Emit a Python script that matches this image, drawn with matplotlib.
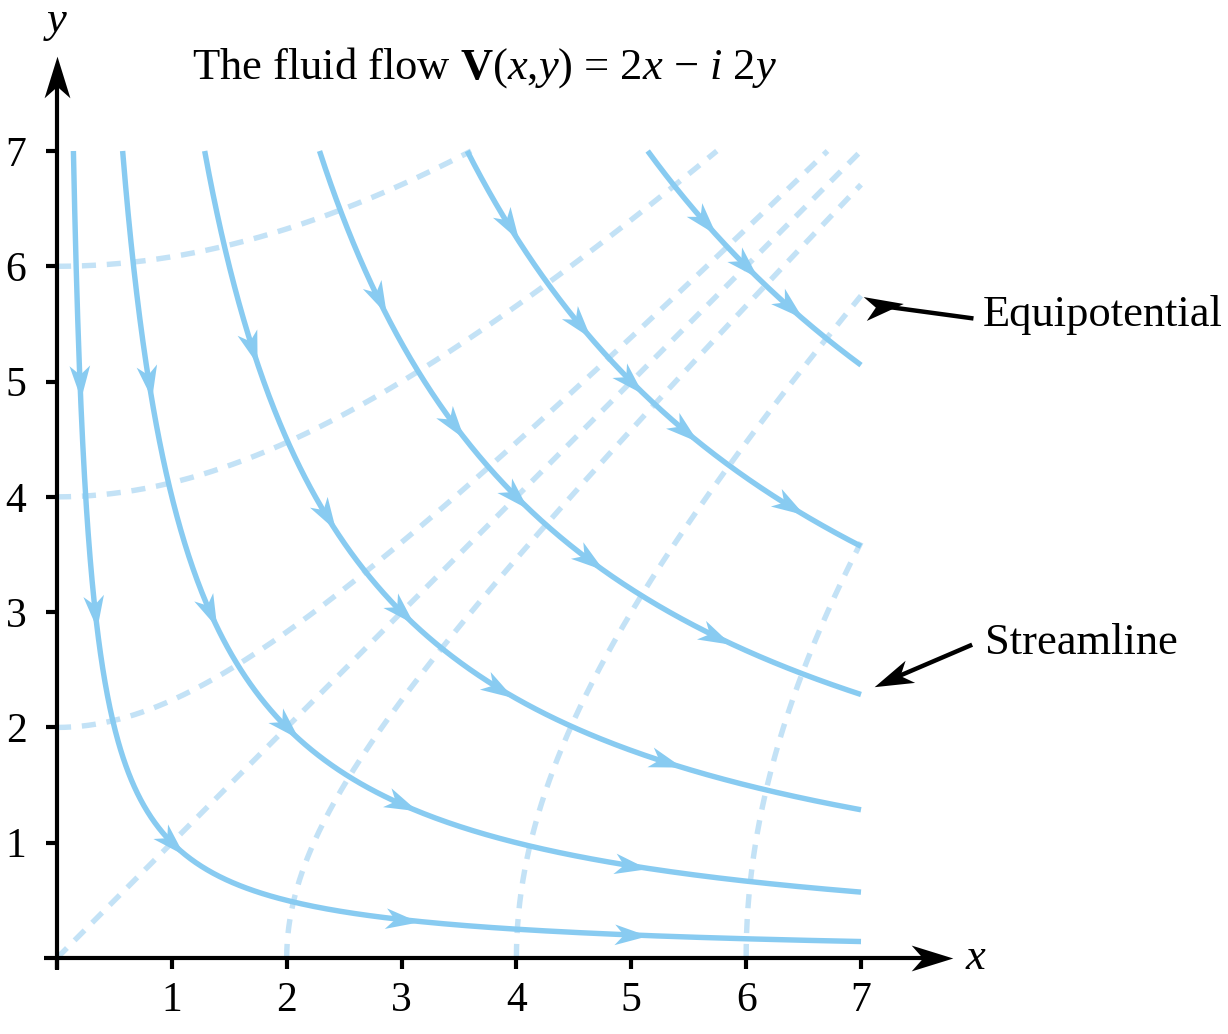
import numpy as np
import matplotlib
matplotlib.use("Agg")
import matplotlib.pyplot as plt
from matplotlib.markers import MarkerStyle
from matplotlib.path import Path
from matplotlib.transforms import Affine2D

plt.rcParams['font.family'] = ['Liberation Serif', 'DejaVu Serif']
plt.rcParams['mathtext.fontset'] = 'custom'
plt.rcParams['mathtext.rm'] = 'Liberation Serif'
plt.rcParams['mathtext.it'] = 'Liberation Serif:italic'
plt.rcParams['mathtext.bf'] = 'Liberation Serif:bold'

# ---- data ----
stream_consts = [1, 4, 9, 16, 25, 36]          # xy = c
stream_arrow_x = [
    [0.2, 0.333, 1.0, 3.0, 5.0],
    [0.8, 1.333, 2.0, 3.0, 5.0],
    [1.7, 2.35, 3.0, 3.85, 5.3],
    [2.8, 3.46, 4.0, 4.64, 5.74],
    [3.94, 4.55, 5.0, 5.47, 6.38],
    [5.64, 6.0, 6.38],
]
equip_consts = [-36, -16, -4, 0, 4, 16, 36]    # x^2 - y^2 = c
tick_vals = [1, 2, 3, 4, 5, 6, 7]
title = r"The fluid flow $\mathbf{V}(x{,}y)$ = 2$x$ $-$ $i$ 2$y$"

STREAM = '#88cbf1'
EQUIP = '#c3e2f6'

fig = plt.figure(figsize=(12.28, 10.34), dpi=100)
ax = fig.add_axes([57/1228, (1034-958)/1034, 804/1228, 807/1034])
ax.set_xlim(0, 7)
ax.set_ylim(0, 7)
for s in ax.spines.values():
    s.set_visible(False)

# stealth arrow marker
verts = [(1, 0), (-1, 0.62), (-0.45, 0), (-1, -0.62), (1, 0)]
codes = [Path.MOVETO, Path.LINETO, Path.LINETO, Path.LINETO, Path.CLOSEPOLY]
stealth = Path(verts, codes)


def head(x, y, dx, dy, size, color, z=5):
    p0 = ax.transData.transform((x, y))
    p1 = ax.transData.transform((x + dx, y + dy))
    ang = np.degrees(np.arctan2(p1[1] - p0[1], p1[0] - p0[0]))
    m = MarkerStyle(stealth, transform=Affine2D().rotate_deg(ang))
    ax.plot([x], [y], marker=m, markersize=size, color=color,
            markeredgewidth=0, linestyle='none', clip_on=False, zorder=z)


# equipotentials
for c in equip_consts:
    if c < 0:
        xs = np.linspace(0, min(7, np.sqrt(49 + c)), 300)
        ys = np.sqrt(xs**2 - c)
    else:
        ys = np.linspace(0, min(7, np.sqrt(49 - c)), 300)
        xs = np.sqrt(ys**2 + c)
    ax.plot(xs, ys, color=EQUIP, lw=3.9, dashes=(2.6, 2.0), solid_capstyle='butt',
            dash_capstyle='butt', clip_on=False, zorder=2)

# streamlines
for c, axs in zip(stream_consts, stream_arrow_x):
    xs = np.geomspace(c / 7, 7, 400)
    ax.plot(xs, c / xs, color=STREAM, lw=3.9, clip_on=False, zorder=3,
            solid_capstyle='butt')
    for xa in axs:
        ya = c / xa
        # velocity (2x, -2y)
        head(xa, ya, 2 * xa * 0.01, -2 * ya * 0.01, 24, STREAM)

# axes lines with arrows
ax.plot([-0.11, 7.6], [0, 0], color='k', lw=3, clip_on=False, zorder=6,
        solid_capstyle='butt')
ax.plot([0, 0], [-0.1, 7.6], color='k', lw=3, clip_on=False, zorder=6,
        solid_capstyle='butt')
head(7.78 - 0.16, 0, 1, 0, 30, 'k', 7)
head(0, 7.8 - 0.16, 0, 1, 30, 'k', 7)

ax.set_xticks([0] + tick_vals)
ax.set_xticklabels([''] + [str(v) for v in tick_vals])
ax.set_yticks(tick_vals)
ax.set_yticklabels([str(v) for v in tick_vals])
ax.tick_params(axis='x', direction='out', length=8, width=3, pad=9,
               labelsize=30, color='k')
ax.tick_params(axis='y', direction='out', length=8, width=3, pad=14,
               labelsize=30, color='k')

ax.text(8.0, 0, 'x', fontsize=32, style='italic', ha='center', va='center',
        clip_on=False)
ax.text(0, 8.13, 'y', fontsize=32, style='italic', ha='center', va='center',
        clip_on=False)
ax.text(3.72, 7.72, title, fontsize=32, ha='center', va='center', clip_on=False)

# annotations
ax.plot([7.96, 7.22], [5.55, 5.65], color='k', lw=3.2, clip_on=False, zorder=6)
head(7.2, 5.652, 1, 0.13, 28, 'k', 7)
ax.text(8.06, 5.58, 'Equipotential', fontsize=32, ha='left', va='center',
        clip_on=False)
ax.plot([7.95, 7.27], [2.71, 2.42], color='k', lw=3.2, clip_on=False, zorder=6)
head(7.27, 2.42, -0.7, -0.3, 28, 'k', 7)
ax.text(8.08, 2.73, 'Streamline', fontsize=32, ha='left', va='center',
        clip_on=False)

fig.savefig('out.png', dpi=100)
